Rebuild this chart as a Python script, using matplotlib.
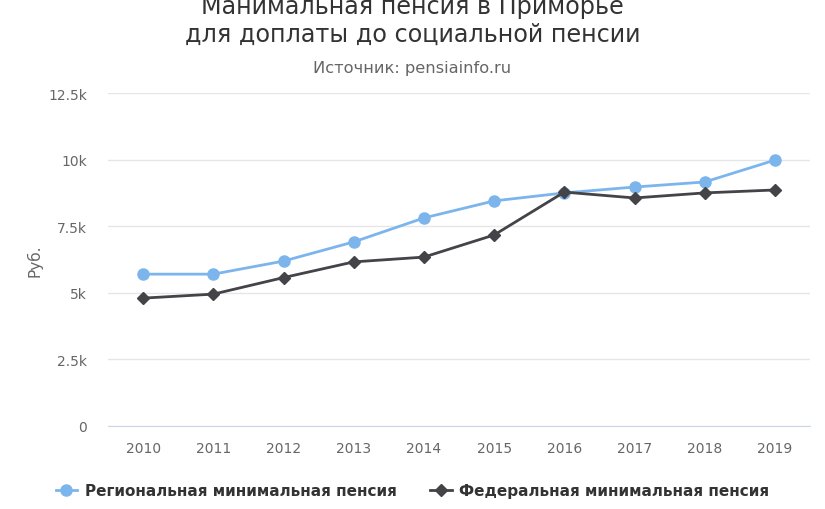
import matplotlib
matplotlib.use("Agg")
import matplotlib.pyplot as plt
from matplotlib.lines import Line2D

years = ["2010", "2011", "2012", "2013", "2014", "2015", "2016", "2017", "2018", "2019"]
regional = [5700, 5700, 6190, 6910, 7810, 8450, 8750, 8970, 9160, 9980]
federal = [4800, 4950, 5570, 6160, 6340, 7170, 8780, 8560, 8750, 8860]
yticks = [0, 2500, 5000, 7500, 10000, 12500]
ytick_labels = ["0", "2.5k", "5k", "7.5k", "10k", "12.5k"]

title = "Манимальная пенсия в Приморье\nдля доплаты до социальной пенсии"
subtitle = "Источник: pensiainfo.ru"
ylabel = "Руб."
names = ["Региональная минимальная пенсия", "Федеральная минимальная пенсия"]

plt.rcParams['font.family'] = ['DejaVu Sans']

W, H = 825, 510
fig = plt.figure(figsize=(W/100, H/100), dpi=100)
ax = fig.add_axes([108/W, 1-427/H, (810-108)/W, (427-94)/H])

x = list(range(len(years)))
ax.plot(x, regional, color="#7cb5ec", lw=2, marker="o", ms=8, zorder=3)
ax.plot(x, federal, color="#434348", lw=2, marker="D", ms=6, zorder=4)

ax.set_xlim(-0.5, len(years)-0.5)
ax.set_ylim(0, 12500)
ax.set_yticks(yticks)
ax.set_yticklabels(ytick_labels)
ax.set_xticks(x)
ax.set_xticklabels(years)
ax.tick_params(axis='y', length=0, pad=15, labelsize=10, labelcolor="#666666")
ax.tick_params(axis='x', length=0, pad=11, labelsize=10, labelcolor="#666666")
ax.grid(axis='y', color="#e6e6e6", lw=1)
ax.set_axisbelow(True)
for s in ["top", "right", "left"]:
    ax.spines[s].set_visible(False)
ax.spines["bottom"].set_color("#ccd6eb")
ax.set_ylabel(ylabel, color="#666666", fontsize=11, labelpad=4)

fig.text(0.5, 1-21/H, title, ha="center", va="center", fontsize=17.2,
         color="#333333", linespacing=1.2)
fig.text(0.5, 1-68/H, subtitle, ha="center", va="center", fontsize=11.7, color="#666666")

handles = [Line2D([0], [0], color="#7cb5ec", lw=2, marker="o", ms=8),
           Line2D([0], [0], color="#434348", lw=2, marker="D", ms=6)]
leg = fig.legend(handles, names, loc="center", bbox_to_anchor=(0.5, 1-492/H), ncol=2,
                 frameon=False, prop={"weight": "bold", "size": 11}, handlelength=1.4,
                 columnspacing=2.2, handletextpad=0.5)
for t in leg.get_texts():
    t.set_color("#333333")

fig.savefig("out.png", dpi=100)
